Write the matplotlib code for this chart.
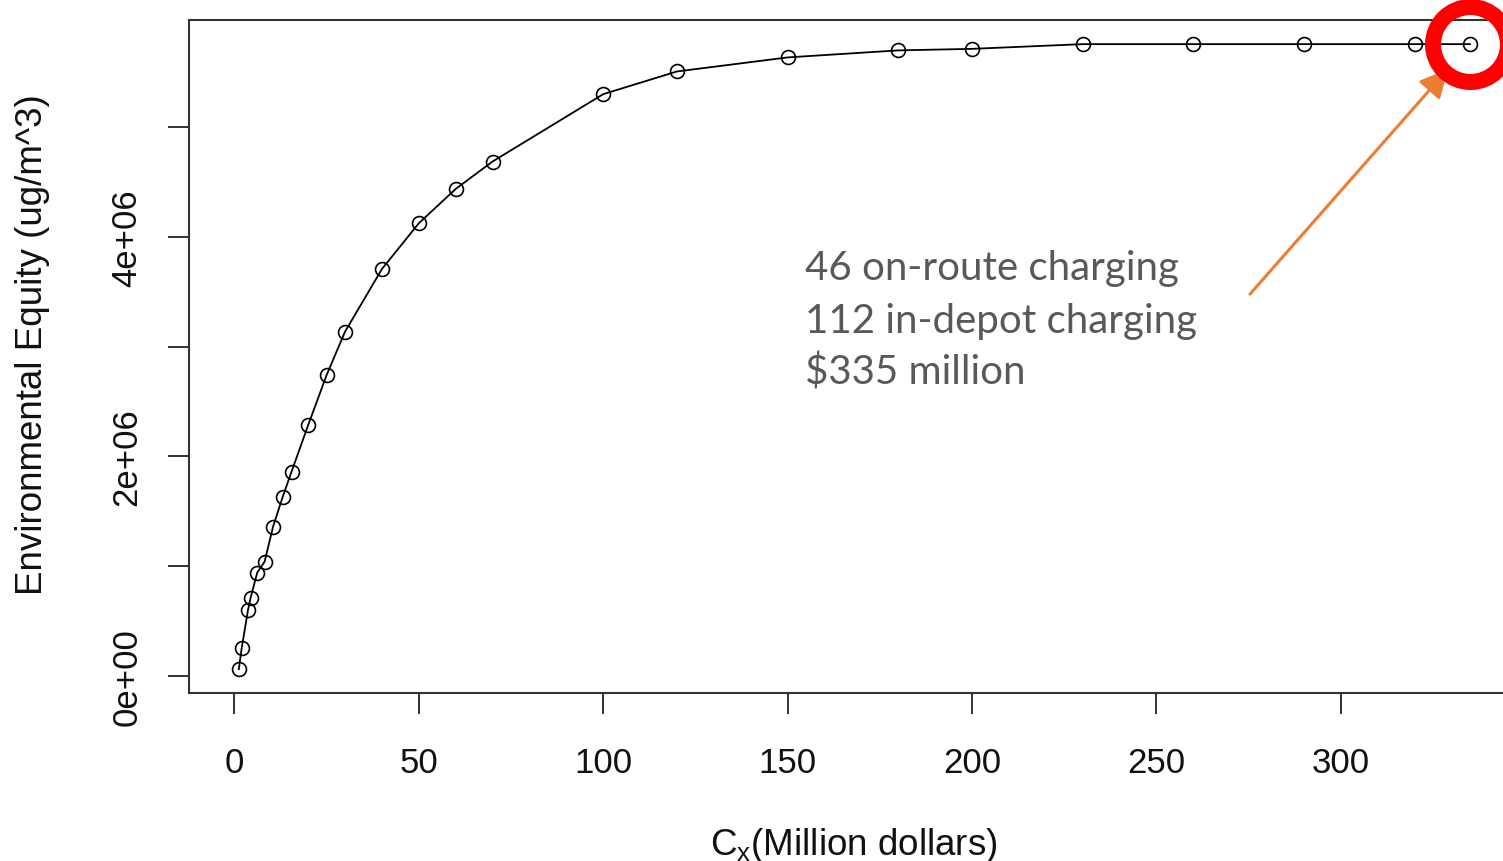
import matplotlib.pyplot as plt
import numpy as np

# budget (million dollars) vs environmental equity
cost = [1.2, 2.0, 3.7, 4.4, 6.2, 8.2, 10.5, 13.1, 15.5, 20, 25, 30, 40, 50, 60,
        70, 100, 120, 150, 180, 200, 230, 260, 290, 320, 335]
equity = [0.06e6, 0.255e6, 0.60e6, 0.71e6, 0.94e6, 1.04e6, 1.36e6, 1.63e6, 1.86e6,
          2.284e6, 2.74e6, 3.136e6, 3.707e6, 4.124e6, 4.437e6, 4.687e6, 5.301e6,
          5.508e6, 5.636e6, 5.70e6, 5.714e6, 5.757e6, 5.757e6, 5.757e6, 5.757e6,
          5.757e6]

xticks = [0, 50, 100, 150, 200, 250, 300]
yticks = [0, 1e6, 2e6, 3e6, 4e6, 5e6]
ylabels = ['0e+00', '', '2e+06', '', '4e+06', '']

note_lines = ["46 on-route charging", "112 in-depot charging", "$335 million"]

plt.rcParams['font.family'] = 'Liberation Sans'
plt.rcParams['mathtext.fontset'] = 'custom'
plt.rcParams['mathtext.rm'] = 'Liberation Sans'
plt.rcParams['mathtext.it'] = 'Liberation Sans'

W, H = 1503, 862
fig = plt.figure(figsize=(W / 100, H / 100), dpi=100)
ax = fig.add_axes([189 / W, (H - 694) / H, (1519 - 189) / W, (694 - 21) / H])

ax.plot(cost, equity, color='black', lw=1.3, marker='o', ms=10,
        mfc='none', mec='black', mew=1.2)

# highlight the last point
ax.plot(cost[-1], equity[-1], marker='o', ms=54, mfc='none', mec='#ff0000',
        mew=11.5, clip_on=False, zorder=5)

ax.annotate('', xy=(cost[-1], equity[-1]), xytext=(-220, -250),
            textcoords='offset pixels',
            arrowprops=dict(arrowstyle='-|>,head_length=0.9,head_width=0.45',
                            color='#ED7D31', lw=2.2, mutation_scale=19,
                            shrinkA=0, shrinkB=24))

ax.set_xlim(-12.3, 348.3)
ax.set_ylim(-0.157e6, 5.977e6)

ax.set_xticks(xticks)
ax.set_xticklabels([str(t) for t in xticks])
ax.set_yticks(yticks)
ax.set_yticklabels(ylabels, rotation=90, va='center')
ax.tick_params(axis='both', length=15, width=1.3, color='#222222',
               labelsize=25, labelcolor='#111111')
ax.tick_params(axis='x', pad=23)
ax.tick_params(axis='y', pad=18)

for s in ax.spines.values():
    s.set_linewidth(1.5)
    s.set_color('#333333')

ax.set_xlabel(r'$\mathregular{C_x}$(Million dollars)', fontsize=26.5,
              color='#111111', labelpad=33)
ax.set_ylabel('Environmental Equity (ug/m^3)', fontsize=26.5, color='#111111')
ax.yaxis.set_label_coords(-0.1045, 0.519)

for i, line in enumerate(note_lines):
    fig.text(805 / W, (H - 280 - 52.5 * i) / H, line, fontsize=29,
             family='Lato', color='#595959', va='baseline', ha='left')

fig.savefig('out.png', dpi=100)
